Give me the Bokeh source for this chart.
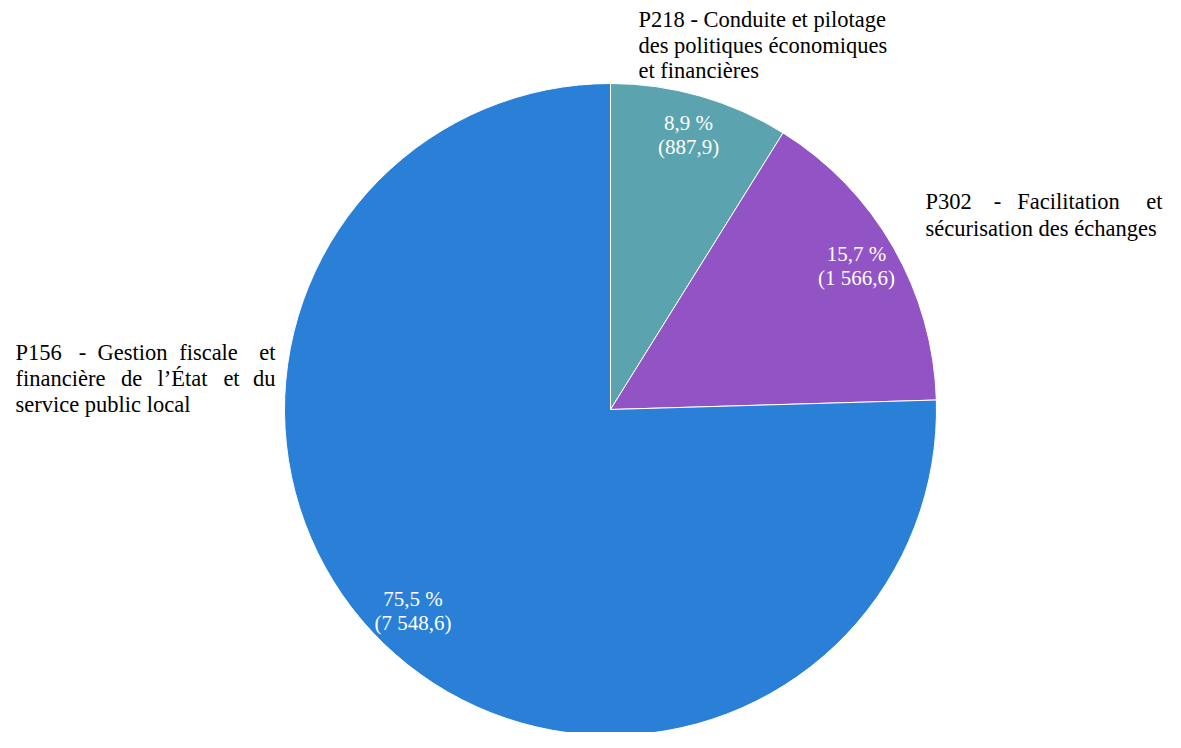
import math
from bokeh.plotting import figure
from bokeh.models import Range1d, ColumnDataSource
from bokeh.core.properties import value
from bokeh.embed import file_html
from bokeh.resources import INLINE

# ---- data ----
programmes = ["P218", "P302", "P156"]
amounts = [887.9, 1566.6, 7548.6]
colors = ["#5BA3AE", "#9254C5", "#2A7FD6"]

# ---- layout (picture coordinates, converted below) ----
PW, PH = 1165, 732
CX, CY, R = 610, 409, 326
FONT = "Liberation Serif"
FS = "21px"
FS_CAT = "22.5px"

def sy(y):
    return PH - y

p = figure(width=PW, height=PH, output_backend="svg", toolbar_location=None,
           x_range=Range1d(0, PW), y_range=Range1d(0, PH),
           min_border=0, outline_line_color=None)
p.axis.visible = False
p.grid.visible = False
p.background_fill_color = "white"
p.border_fill_color = "white"

total = sum(amounts)
starts, ends, mids = [], [], []
cum = 0.0
for a in amounts:
    s = math.pi / 2 - cum / total * 2 * math.pi
    cum += a
    e = math.pi / 2 - cum / total * 2 * math.pi
    starts.append(s)
    ends.append(e)
    mids.append((s + e) / 2)

src = ColumnDataSource(dict(start=starts, end=ends, color=colors))
p.wedge(x=CX, y=sy(CY), radius=R, start_angle="start", end_angle="end",
        direction="clock", fill_color="color", line_color="white", line_width=1,
        source=src)

def fmt_num(v):
    s = f"{v:,.1f}"
    return s.replace(",", " ").replace(".", ",")

# data labels inside slices
lx, ly1, ly2, t1, t2 = [], [], [], [], []
for a, m in zip(amounts, mids):
    pct = a / total * 100
    x = CX + 0.87 * R * math.cos(m)
    y = sy(CY) + 0.87 * R * math.sin(m)
    lx.append(x)
    ly1.append(y + 14)
    ly2.append(y - 10)
    t1.append(f"{pct:.1f}".replace(".", ",") + " %")
    t2.append("(" + fmt_num(a) + ")")
p.text(x=lx, y=ly1, text=t1, text_color="white", text_font=value(FONT),
       text_font_size=FS, text_align="center", text_baseline="middle")
p.text(x=lx, y=ly2, text=t2, text_color="white", text_font=value(FONT),
       text_font_size=FS, text_align="center", text_baseline="middle")

# category labels (justified by word placement)
words = [
    # P218
    ("P218 - Conduite et pilotage", 638, 19, "left"),
    ("des politiques économiques", 638, 45, "left"),
    ("et financières", 638, 70, "left"),
    # P302
    ("P302", 925, 201, "left"),
    ("-", 997, 201, "center"),
    ("Facilitation", 1068, 201, "center"),
    ("et", 1162, 201, "right"),
    ("sécurisation des échanges", 925, 228, "left"),
    # P156
    ("P156", 15, 352, "left"),
    ("-", 82, 352, "center"),
    ("Gestion", 132, 352, "center"),
    ("fiscale", 208, 352, "center"),
    ("et", 275, 352, "right"),
    ("financière", 15, 378, "left"),
    ("de", 131, 378, "center"),
    ("l’État", 182, 378, "center"),
    ("et", 231, 378, "center"),
    ("du", 275, 378, "right"),
    ("service public local", 15, 404, "left"),
]
for txt, x, y, al in words:
    p.text(x=[x], y=[sy(y)], text=[txt], text_color="black", text_font=value(FONT),
           text_font_size=FS_CAT, text_align=al, text_baseline="middle")

open("out.html", "w").write(file_html(p, INLINE))
